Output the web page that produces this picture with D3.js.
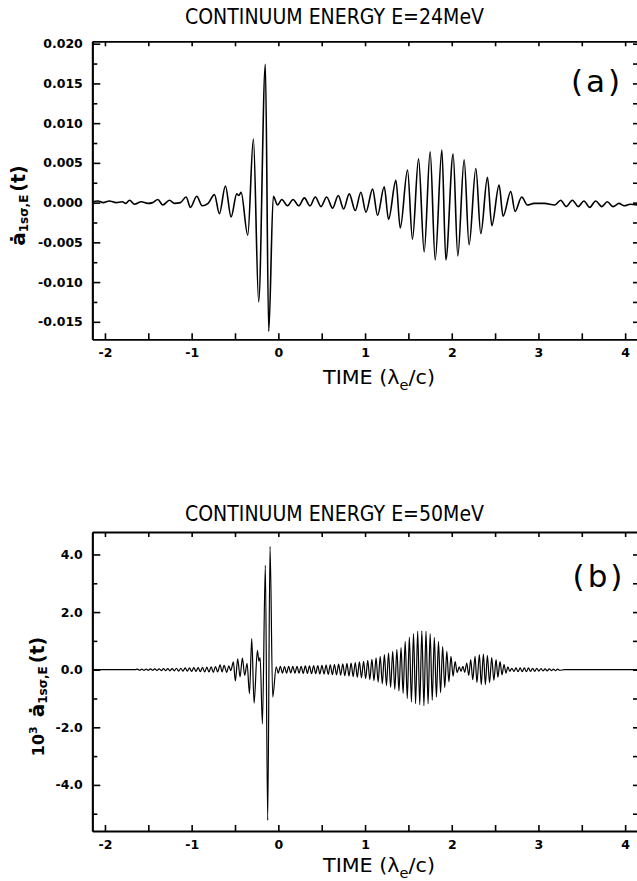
<!DOCTYPE html>
<html><head><meta charset="utf-8">
<script src="https://cdn.jsdelivr.net/npm/d3@7"></script>
<style>
html,body{margin:0;padding:0;background:#fff;}
svg{display:block;}
text{font-family:"DejaVu Sans",sans-serif;fill:#000;}
</style></head><body>
<svg id="chart" width="637" height="881"></svg>
<script>
// ---------- data ----------
const xTicks = [-2,-1.5,-1,-0.5,0,0.5,1,1.5,2,2.5,3,3.5,4];
const xLabelTicks = [-2,-1,0,1,2,3,4];
const xLabels = ["-2","-1","0","1","2","3","4"];
const xTitle = ["TIME (\u03bb","e","/c)"];

const titleA = "CONTINUUM ENERGY E=24MeV";
const titleB = "CONTINUUM ENERGY E=50MeV";
const tagA = "(a)";
const tagB = "(b)";

const aYMajor = [-0.015,-0.010,-0.005,0,0.005,0.010,0.015,0.020];
const aYMajorLabels = ["-0.015","-0.010","-0.005","0.000","0.005","0.010","0.015","0.020"];
const aYMinor = [-0.0125,-0.0075,-0.0025,0.0025,0.0075,0.0125,0.0175];

const bYMajor = [-4,-2,0,2,4];
const bYMajorLabels = ["-4.0","-2.0","0.0","2.0","4.0"];
const bYMinor = [-5,-3,-1,1,3];

// extrema of the traces: [time, value]
const curveA = [
[-2.146,0.0001],[-2.08,0.0002],[-2.02,0.0000],[-1.95,0.0002],[-1.87,0.0000],[-1.80,0.0001],[-1.76,-0.0001],
[-1.716,0.0003],[-1.659,-0.0002],[-1.582,0.0001],[-1.505,-0.0001],[-1.45,0.0000],[-1.390,0.0004],[-1.333,-0.0003],
[-1.256,0.0003],[-1.198,-0.0001],[-1.13,0.0000],[-1.064,0.0007],[-1.014,-0.0006],[-0.941,0.0008],[-0.879,-0.0004],
[-0.81,-0.0001],[-0.737,0.0010],[-0.680,-0.0014],[-0.611,0.0021],[-0.545,-0.0018],[-0.480,0.0011],[-0.455,0.0009],
[-0.430,0.0013],[-0.353,-0.0041],[-0.288,0.0080],[-0.227,-0.0125],[-0.150,0.0174],[-0.111,-0.0162],[-0.058,0.0008],
[-0.008,-0.0003],[0.040,0.0004],[0.105,-0.0004],[0.170,0.0004],[0.235,-0.0004],[0.300,0.0006],[0.365,-0.0004],
[0.426,0.0007],[0.492,-0.0005],[0.557,0.0007],[0.626,-0.0007],[0.691,0.0009],[0.753,-0.0008],[0.818,0.0011],
[0.887,-0.0010],[0.952,0.0013],[1.010,-0.0012],[1.087,0.0017],[1.144,-0.0016],[1.221,0.0020],[1.271,-0.0021],
[1.356,0.0028],[1.406,-0.0032],[1.490,0.0041],[1.547,-0.0046],[1.617,0.0055],[1.682,-0.0062],[1.751,0.0064],
[1.809,-0.0072],[1.886,0.0066],[1.932,-0.0072],[2.016,0.0061],[2.070,-0.0067],[2.143,0.0054],[2.200,-0.0053],
[2.278,0.0043],[2.335,-0.0039],[2.412,0.0032],[2.462,-0.0029],[2.546,0.0022],[2.592,-0.0017],[2.681,0.0014],
[2.730,-0.0011],[2.807,0.0007],[2.872,-0.0003],[2.95,-0.0001],[3.07,-0.0001],[3.19,-0.0003],[3.257,0.0003],
[3.32,-0.0005],[3.391,0.0003],[3.46,-0.0005],[3.525,0.0002],[3.59,-0.0006],[3.660,0.0002],[3.73,-0.0005],
[3.794,0.0001],[3.86,-0.0005],[3.929,-0.0001],[3.99,-0.0004],[4.06,-0.0002],[4.146,-0.0003]
];

const curveB = [
[-2.146,0],[-1.9,0],[-1.65,0],
[-1.625,0.02],[-1.600,-0.02],[-1.575,0.02],[-1.550,-0.02],[-1.525,0.02],[-1.500,-0.02],[-1.475,0.03],[-1.450,-0.02],
[-1.425,0.03],[-1.400,-0.03],[-1.375,0.03],[-1.350,-0.03],[-1.325,0.04],[-1.300,-0.03],[-1.275,0.04],[-1.250,-0.04],
[-1.225,0.04],[-1.200,-0.04],[-1.175,0.05],[-1.150,-0.05],[-1.125,0.05],[-1.100,-0.05],[-1.075,0.06],[-1.050,-0.05],
[-1.025,0.06],[-1.000,-0.06],[-0.975,0.07],[-0.950,-0.06],[-0.925,0.07],[-0.900,-0.07],[-0.875,0.08],[-0.850,-0.08],
[-0.825,0.09],[-0.800,-0.08],[-0.775,0.10],[-0.750,-0.09],[-0.725,0.11],[-0.700,-0.08],[-0.672,0.17],[-0.649,-0.08],
[-0.626,0.15],[-0.595,-0.09],[-0.572,0.13],[-0.548,-0.03],[-0.519,0.27],[-0.496,-0.39],[-0.469,0.38],[-0.442,-0.25],
[-0.415,0.40],[-0.388,-0.20],[-0.361,0.22],[-0.333,-0.83],[-0.307,1.08],[-0.280,-1.16],[-0.242,0.67],[-0.224,0.30],
[-0.210,0.42],[-0.184,-1.88],[-0.150,3.62],[-0.123,-5.23],[-0.096,4.28],[-0.065,-0.95],
[-0.025,0.10],[-0.001,-0.12],[0.023,0.12],[0.047,-0.12],[0.071,0.11],[0.095,-0.12],[0.119,0.12],[0.143,-0.11],
[0.167,0.12],[0.191,-0.12],[0.215,0.12],[0.239,-0.12],[0.263,0.12],[0.287,-0.13],[0.311,0.13],[0.335,-0.13],
[0.359,0.13],[0.383,-0.14],[0.407,0.14],[0.431,-0.14],[0.455,0.14],[0.479,-0.15],[0.503,0.15],[0.527,-0.15],
[0.551,0.16],[0.575,-0.16],[0.599,0.17],[0.623,-0.17],[0.647,0.18],[0.671,-0.18],[0.695,0.19],[0.719,-0.19],
[0.743,0.20],[0.767,-0.21],[0.791,0.22],[0.815,-0.22],[0.839,0.23],[0.863,-0.24],[0.887,0.25],[0.911,-0.26],
[0.935,0.27],[0.959,-0.28],[0.983,0.29],[1.007,-0.31],[1.031,0.32],[1.055,-0.34],[1.079,0.36],[1.103,-0.38],
[1.127,0.41],[1.151,-0.43],[1.175,0.46],[1.199,-0.49],[1.223,0.52],[1.247,-0.55],[1.271,0.58],[1.295,-0.61],
[1.319,0.64],[1.343,-0.68],[1.367,0.70],[1.391,-0.74],[1.415,0.77],[1.439,-0.82],[1.463,0.98],[1.487,-1.00],
[1.511,1.13],[1.535,-1.12],[1.559,1.25],[1.583,-1.18],[1.607,1.33],[1.631,-1.22],[1.655,1.35],[1.679,-1.25],
[1.703,1.33],[1.727,-1.18],[1.751,1.25],[1.775,-1.06],[1.799,1.12],[1.823,-0.95],[1.847,0.98],[1.871,-0.80],
[1.895,0.80],[1.919,-0.62],[1.943,0.64],[1.967,-0.42],[1.991,0.46],[2.015,-0.22],[2.039,0.28],[2.063,-0.10],
[2.087,0.10],[2.107,-0.06],[2.128,0.12],[2.150,-0.09],[2.173,0.23],[2.196,-0.20],[2.219,0.35],[2.242,-0.35],
[2.269,0.46],[2.290,-0.45],[2.319,0.52],[2.340,-0.52],[2.365,0.54],[2.388,-0.52],[2.411,0.50],[2.436,-0.45],
[2.461,0.42],[2.486,-0.37],[2.511,0.35],[2.532,-0.26],[2.557,0.28],[2.580,-0.18],[2.603,0.18],[2.626,-0.12],
[2.647,0.10],[2.670,-0.06],[2.693,0.05],[2.717,-0.06],[2.741,0.06],[2.765,-0.07],[2.789,0.06],[2.813,-0.07],
[2.837,0.06],[2.861,-0.07],[2.885,0.06],[2.909,-0.06],[2.933,0.05],[2.957,-0.06],[2.981,0.05],[3.005,-0.05],
[3.029,0.04],[3.053,-0.04],[3.077,0.03],[3.101,-0.04],[3.125,0.03],[3.149,-0.03],[3.173,0.02],[3.197,-0.03],
[3.221,0.02],[3.245,-0.02],[3.30,0],[3.6,0],[4.146,0]
];

// ---------- drawing ----------
const svg = d3.select("#chart");
const x = d3.scaleLinear().domain([-2.146, 4.146]).range([92.3, 637.8]);
const X0 = 92.3, X1 = 638;

function styleAxis(g){
  g.attr("font-family","DejaVu Sans, sans-serif").attr("font-size",12.5).attr("font-weight","bold");
  g.select(".domain").attr("stroke","#000").attr("stroke-width",1.8);
  g.selectAll(".tick line").attr("stroke","#000").attr("stroke-width",1.6);
  g.selectAll(".tick text").attr("fill","#000");
}

function drawPanel(p){
  const y = d3.scaleLinear().domain(p.yDomain).range(p.yRange);
  const g = svg.append("g");

  // bottom
  g.append("g").attr("transform",`translate(0,${p.yRange[0]})`)
    .call(d3.axisBottom(x).tickValues(xTicks).tickSize(-6).tickSizeOuter(0).tickPadding(9)
      .tickFormat(d => { const i = xLabelTicks.indexOf(d); return i >= 0 ? xLabels[i] : ""; }))
    .call(styleAxis);
  // top
  g.append("g").attr("transform",`translate(0,${p.yRange[1]})`)
    .call(d3.axisTop(x).tickValues(xTicks).tickSize(-5).tickSizeOuter(0).tickFormat(""))
    .call(styleAxis);
  // left major
  g.append("g").attr("transform",`translate(${X0},0)`)
    .call(d3.axisLeft(y).tickValues(p.yMajor).tickSize(-8).tickSizeOuter(0).tickPadding(9.5)
      .tickFormat((d,i) => p.yLabels[i]))
    .call(styleAxis);
  // left minor
  g.append("g").attr("transform",`translate(${X0},0)`)
    .call(d3.axisLeft(y).tickValues(p.yMinor).tickSize(-5).tickSizeOuter(0).tickFormat(""))
    .call(styleAxis);
  // right
  g.append("g").attr("transform",`translate(${X1},0)`)
    .call(d3.axisRight(y).tickValues(p.yMajor.concat(p.yMinor)).tickSize(-5).tickSizeOuter(0).tickFormat(""))
    .call(styleAxis);

  // curve
  const line = d3.line().x(d => x(d[0])).y(d => y(d[1])).curve(d3.curveMonotoneX);
  g.append("path").datum(p.curve).attr("d", line)
    .attr("fill","none").attr("stroke","#000").attr("stroke-width",p.lw).attr("stroke-linejoin","round");

  // title
  g.append("text").attr("x",334.5).attr("y",p.titleY).attr("text-anchor","middle")
    .attr("font-size",22).attr("textLength",299).attr("lengthAdjust","spacingAndGlyphs").text(p.title);

  // tag
  g.append("text").attr("x",p.tagX).attr("y",p.tagY).attr("text-anchor","middle")
    .attr("font-size",31).attr("letter-spacing",3).text(p.tag);

  // x title
  const xt = g.append("text").attr("x",379).attr("y",p.xTitleY).attr("text-anchor","middle")
    .attr("font-size",20).attr("textLength",112).attr("lengthAdjust","spacingAndGlyphs");
  xt.append("tspan").text(xTitle[0]);
  xt.append("tspan").attr("font-size",14).attr("dy",6).text(xTitle[1]);
  xt.append("tspan").attr("dy",-6).text(xTitle[2]);
  return y;
}

drawPanel({curve:curveA, yDomain:[-0.0172,0.0203], yRange:[339.3,41.3], yMajor:aYMajor, yLabels:aYMajorLabels,
  yMinor:aYMinor, title:titleA, titleY:24, tag:tagA, tagX:597, tagY:92, xTitleY:384, lw:1.6});
drawPanel({curve:curveB, yDomain:[-5.60,4.78], yRange:[831,532], yMajor:bYMajor, yLabels:bYMajorLabels,
  yMinor:bYMinor, title:titleB, titleY:521, tag:tagB, tagX:599, tagY:587, xTitleY:872, lw:1.2});

// y titles
const ya = svg.append("text").attr("transform","translate(25,205.5) rotate(-90)").attr("text-anchor","middle")
  .attr("font-weight","bold");
ya.append("tspan").attr("font-size",20).text("\u0227");
ya.append("tspan").attr("font-size",12).attr("dy",3).text("1s\u03c3,E");
ya.append("tspan").attr("font-size",19).attr("dy",-3).attr("dx",3).text("(t)");

const yb = svg.append("text").attr("transform","translate(44,696.5) rotate(-90)").attr("text-anchor","middle")
  .attr("font-weight","bold");
yb.append("tspan").attr("font-size",16).text("10");
yb.append("tspan").attr("font-size",11).attr("dy",-7).text("3");
yb.append("tspan").attr("font-size",20).attr("dy",7).attr("dx",9).text("\u0227");
yb.append("tspan").attr("font-size",12).attr("dy",3).text("1s\u03c3,E");
yb.append("tspan").attr("font-size",19).attr("dy",-3).attr("dx",3).text("(t)");
</script>
</body></html>
